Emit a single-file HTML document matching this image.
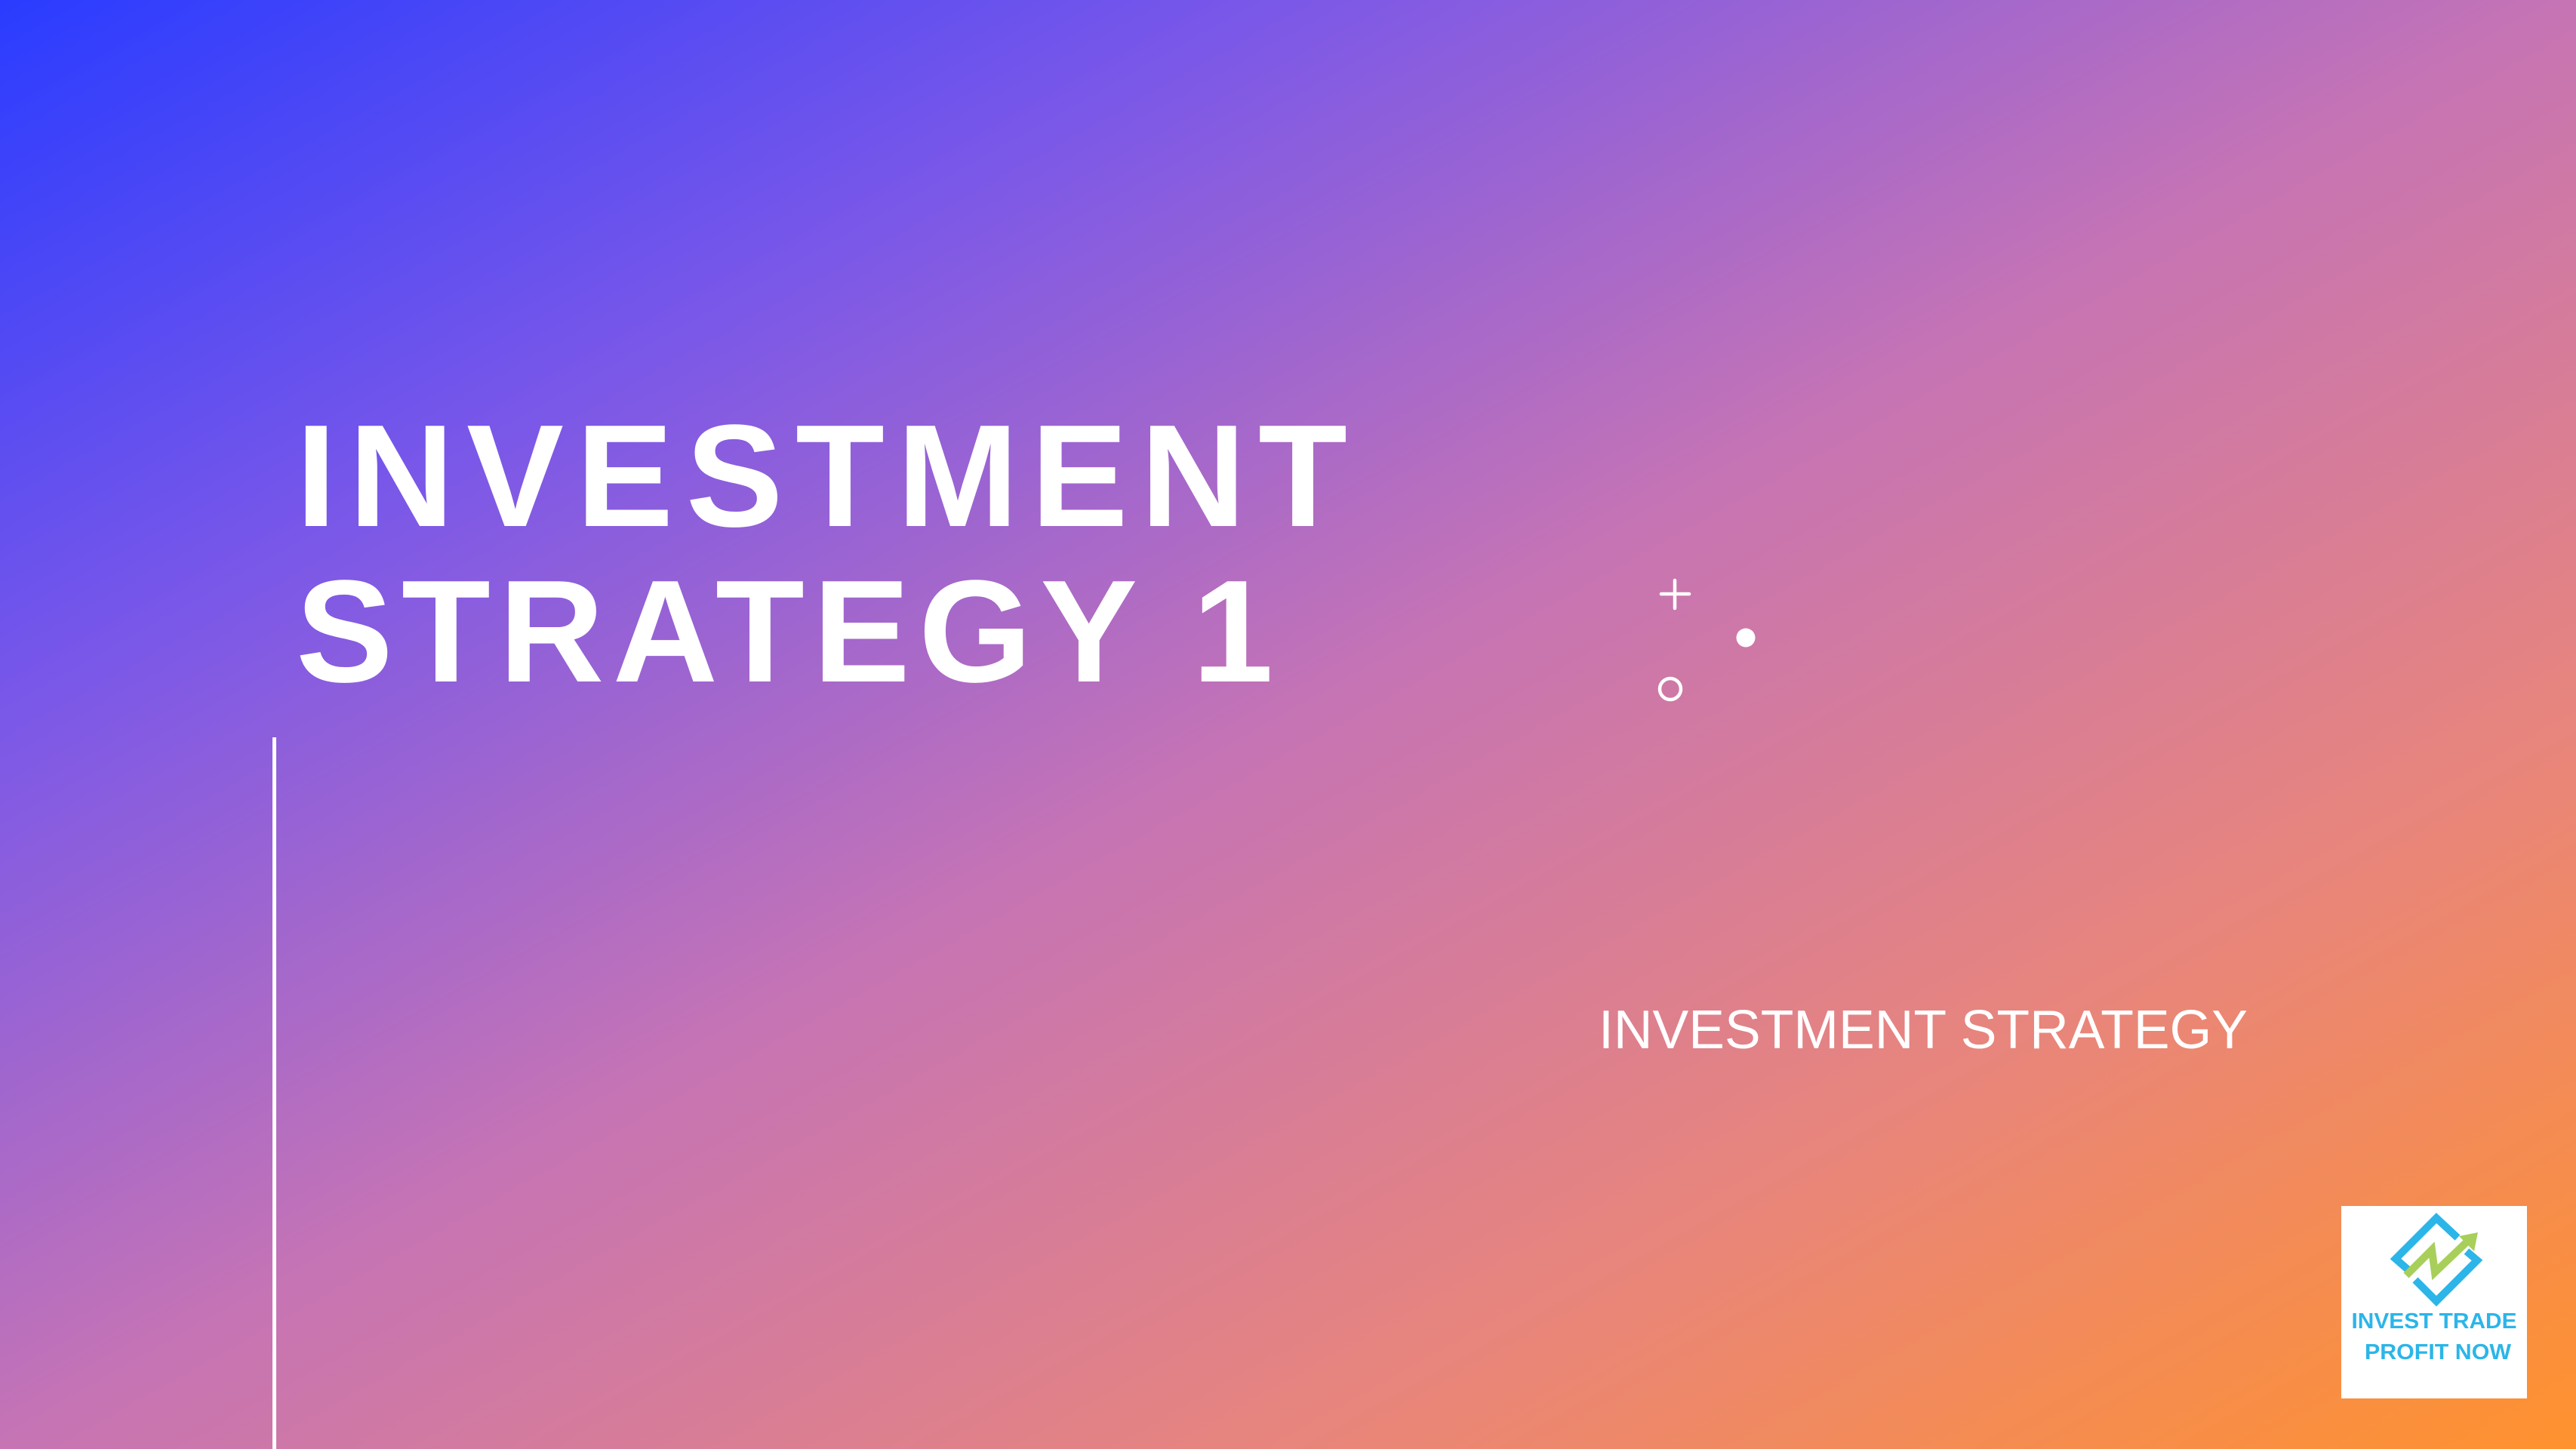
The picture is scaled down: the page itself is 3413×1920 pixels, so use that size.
<!DOCTYPE html>
<html><head><meta charset="utf-8">
<style>
html,body{margin:0;padding:0;width:3413px;height:1920px;overflow:hidden}
#slide{position:relative;width:3413px;height:1920px;background:linear-gradient(to bottom right,#2a3cff 0%,#7b58e8 25%,#c674b4 50%,#e8857c 75%,#ff922e 100%)}
svg{position:absolute;left:0;top:0}
</style></head>
<body>
<div id="slide">
<svg width="3413" height="1920" viewBox="0 0 3413 1920">
  <text x="392" y="697" font-family="Liberation Sans, sans-serif" font-weight="bold" font-size="193" fill="#fff" textLength="1393" lengthAdjust="spacing">INVESTMENT</text>
  <text x="392" y="903" font-family="Liberation Sans, sans-serif" font-weight="bold" font-size="193" fill="#fff" textLength="1295" lengthAdjust="spacing">STRATEGY 1</text>
  <rect x="361" y="977" width="5" height="943" fill="#fff"/>
  <g stroke="#fff" stroke-width="4.5" stroke-linecap="round">
    <line x1="2201" y1="787" x2="2238" y2="787"/><line x1="2219" y1="769" x2="2219" y2="806"/>
  </g>
  <circle cx="2313" cy="845" r="12.5" fill="#fff"/>
  <circle cx="2213" cy="913" r="14" fill="none" stroke="#fff" stroke-width="4.5"/>
  <text x="2118" y="1389" font-family="Liberation Sans, sans-serif" font-size="72" fill="#fff" textLength="860" lengthAdjust="spacingAndGlyphs">INVESTMENT STRATEGY</text>
  <g>
    <rect x="3102" y="1598" width="246" height="255" fill="#fff"/>
    <g stroke="#2cb5e8" stroke-width="10" fill="none">
      <polyline points="3256,1640 3228,1614 3174,1668 3190,1682"/>
      <polyline points="3200,1696 3228,1724 3282,1670 3268,1658"/>
    </g>
    <polyline points="3188,1690 3222,1656 3226,1686 3270,1644" stroke="#a8cf5a" stroke-width="10" fill="none"/>
    <polygon points="3283,1633 3258,1638 3278,1658" fill="#a8cf5a"/>
    <text x="3225" y="1760" text-anchor="middle" font-family="Liberation Sans, sans-serif" font-weight="bold" font-size="29" fill="#2cb5e8" textLength="219" lengthAdjust="spacingAndGlyphs">INVEST TRADE</text>
    <text x="3230" y="1801" text-anchor="middle" font-family="Liberation Sans, sans-serif" font-weight="bold" font-size="29" fill="#2cb5e8" textLength="194" lengthAdjust="spacingAndGlyphs">PROFIT NOW</text>
  </g>
</svg>
</div>
</body></html>
